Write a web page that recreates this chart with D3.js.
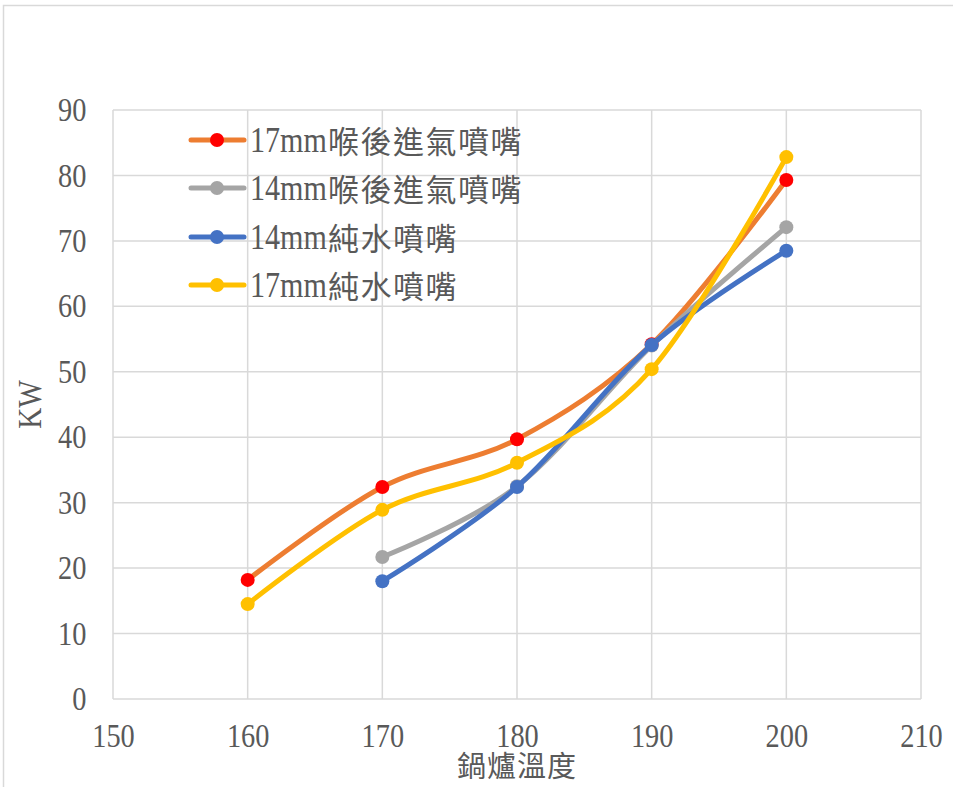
<!DOCTYPE html>
<html>
<head>
<meta charset="utf-8">
<script src="https://cdn.jsdelivr.net/npm/d3@7"></script>
<style>
  html, body { margin: 0; padding: 0; background: #fff; }
  svg text { fill: #595959; }
</style>
</head>
<body>
<div id="chart"></div>
<script>
/* ===== KW vs boiler temperature, four nozzles ===== */

const temps = [160, 170, 180, 190, 200];
const seriesSizes = ['17mm', '14mm', '14mm', '17mm'];
const seriesKinds = ['喉後進氣噴嘴', '喉後進氣噴嘴', '純水噴嘴', '純水噴嘴'];
const kw17Throat = [18.2, 32.4, 39.7, 54.2, 79.3];
const kw14Throat = [null, 21.7, 32.5, 54.0, 72.1];
const kw14Water = [null, 18.0, 32.4, 54.1, 68.5];
const kw17Water = [14.5, 28.9, 36.1, 50.4, 82.8];
const xTicks = [150, 160, 170, 180, 190, 200, 210];
const yTicks = [0, 10, 20, 30, 40, 50, 60, 70, 80, 90];

const lineColors = ['#ED7D31', '#A5A5A5', '#4472C4', '#FFC000'];
const markerColors = ['#FF0000', '#A5A5A5', '#4472C4', '#FFC000'];

const series = [kw17Throat, kw14Throat, kw14Water, kw17Water].map((vals, i) => ({
    size: seriesSizes[i],
    kind: seriesKinds[i],
    line: lineColors[i],
    marker: markerColors[i],
    points: temps.map((t, j) => ({ x: t, y: vals[j] })).filter(p => p.y != null)
}));

const W = 953, H = 787;
const plotLeft = 113, plotRight = 921, plotTop = 110, plotBottom = 699;
const serif = '"Liberation Serif", "Times New Roman", serif';
const cjk = '"Noto Sans CJK TC", "Noto Sans CJK SC", sans-serif';
const squeeze = 0.86; // the Latin text in the original is narrow

const svg = d3.select('#chart').append('svg')
    .attr('width', W)
    .attr('height', H);

// chart frame (cut off at right and bottom like the screenshot)
svg.append('rect')
    .attr('x', 3.5).attr('y', 5.5)
    .attr('width', 1000).attr('height', 900)
    .attr('fill', 'none')
    .attr('stroke', '#d9d9d9')
    .attr('stroke-width', 1.5);

const x = d3.scaleLinear().domain([150, 210]).range([plotLeft, plotRight]);
const y = d3.scaleLinear().domain([0, 90]).range([plotBottom, plotTop]);

// grid
const grid = svg.append('g');
grid.selectAll('.hgrid').data(yTicks).enter().append('line')
    .attr('x1', plotLeft).attr('x2', plotRight)
    .attr('y1', d => y(d)).attr('y2', d => y(d))
    .attr('stroke', '#d9d9d9').attr('stroke-width', 1.5);
grid.selectAll('.vgrid').data(xTicks).enter().append('line')
    .attr('y1', plotTop).attr('y2', plotBottom)
    .attr('x1', d => x(d)).attr('x2', d => x(d))
    .attr('stroke', '#d9d9d9').attr('stroke-width', 1.5);

// axes via d3 axis generators, then restyled
const yAxis = svg.append('g')
    .attr('transform', `translate(${plotLeft},0)`)
    .call(d3.axisLeft(y).tickValues(yTicks).tickSize(0).tickPadding(31));
const xAxis = svg.append('g')
    .attr('transform', `translate(0,${plotBottom})`)
    .call(d3.axisBottom(x).tickValues(xTicks).tickSize(0).tickPadding(25));
[xAxis, yAxis].forEach(a => {
    a.select('.domain').remove();
    a.selectAll('text')
        .attr('fill', '#595959')
        .attr('transform', `scale(${squeeze},1)`)
        .style('font-family', serif)
        .style('font-size', '33px');
});

// axis titles
svg.append('text')
    .attr('x', (plotLeft + plotRight) / 2).attr('y', 777)
    .attr('text-anchor', 'middle')
    .style('font-family', cjk)
    .style('font-size', '29px')
    .style('letter-spacing', '1px')
    .text('鍋爐溫度');
svg.append('text')
    .attr('transform', `translate(41,${(plotTop + plotBottom) / 2}) rotate(-90) scale(${squeeze},1)`)
    .attr('text-anchor', 'middle')
    .style('font-family', serif)
    .style('font-size', '34px')
    .text('KW');

// lines
const line = d3.line()
    .x(d => x(d.x))
    .y(d => y(d.y))
    .curve(d3.curveCatmullRom.alpha(0));

const plot = svg.append('g');
series.forEach(s => {
    plot.append('path')
        .datum(s.points)
        .attr('fill', 'none')
        .attr('stroke', s.line)
        .attr('stroke-width', 5)
        .attr('stroke-linecap', 'round')
        .attr('d', line);
    plot.selectAll(null).data(s.points).enter().append('circle')
        .attr('cx', d => x(d.x))
        .attr('cy', d => y(d.y))
        .attr('r', 7)
        .attr('fill', s.marker);
});

// legend
const legend = svg.append('g');
const rowY = [140, 188, 237, 285];
series.forEach((s, i) => {
    const g = legend.append('g').attr('transform', `translate(0,${rowY[i]})`);
    g.append('line')
        .attr('x1', 191).attr('x2', 244)
        .attr('stroke', s.line).attr('stroke-width', 5)
        .attr('stroke-linecap', 'round');
    g.append('circle').attr('cx', 217).attr('r', 7).attr('fill', s.marker);
    const t = g.append('g').attr('transform', 'translate(250,12)');
    const latin = t.append('text')
        .attr('transform', `scale(${squeeze},1)`)
        .style('font-family', serif)
        .style('font-size', '35px')
        .text(s.size);
    const w = latin.node().getComputedTextLength() * squeeze;
    t.append('text')
        .attr('x', w + 1).attr('y', 1)
        .style('font-family', cjk)
        .style('font-size', '31px')
        .style('letter-spacing', '1.5px')
        .text(s.kind);
});
</script>
</body>
</html>
